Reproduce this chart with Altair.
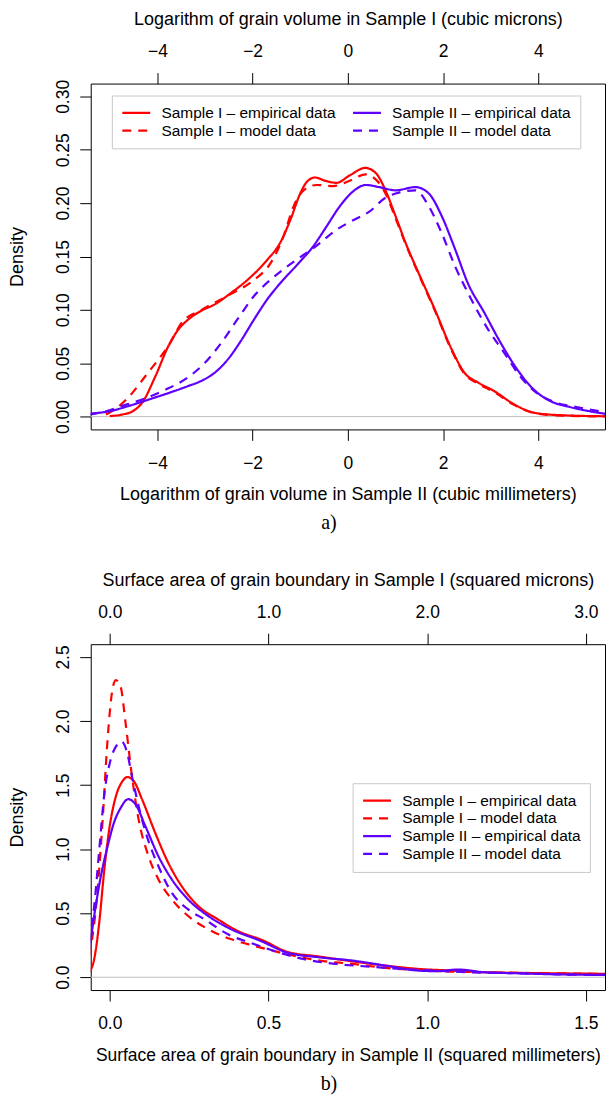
import altair as alt
import pandas as pd

# ---------------- Panel a : log grain volume ----------------
A_ORDER = ["Sample I – empirical data", "Sample I – model data",
           "Sample II – empirical data", "Sample II – model data"]

a_I_emp_x = [-5.0, -4.73, -4.52, -4.32, -4.04, -3.77, -3.56, -3.35, -3.07, -2.80, -2.45, -2.11,
             -1.69, -1.42, -1.21, -1.00, -0.86, -0.69, -0.48, -0.24, 0.04, 0.365, 0.59, 0.79,
             1.0, 1.21, 1.48, 1.83, 2.18, 2.45, 2.73, 3.07, 3.49, 3.90, 4.38, 5.4]
a_I_emp_y = [0.0005, 0.002, 0.005, 0.013, 0.038, 0.066, 0.0816, 0.091, 0.0994, 0.105, 0.116, 0.128,
             0.147, 0.163, 0.184, 0.209, 0.220, 0.224, 0.221, 0.219, 0.226, 0.233, 0.228, 0.212,
             0.188, 0.163, 0.135, 0.100, 0.063, 0.041, 0.032, 0.024, 0.0115, 0.0037, 0.0015, 0.0003]

a_I_mod_x = [-5.08, -4.80, -4.53, -4.25, -3.97, -3.77, -3.49, -3.07, -2.45, -1.97, -1.62, -1.35,
             -1.14, -0.93, -0.66, -0.31, 0.04, 0.38, 0.59, 0.79, 1.0, 1.21, 1.48, 1.83, 2.18,
             2.45, 2.73, 3.07, 3.49, 3.90, 4.38, 5.4]
a_I_mod_y = [0.002, 0.010, 0.022, 0.038, 0.054, 0.066, 0.088, 0.100, 0.115, 0.128, 0.144, 0.169,
             0.197, 0.212, 0.217, 0.216, 0.221, 0.227, 0.222, 0.209, 0.186, 0.162, 0.134, 0.099, 0.062,
             0.040, 0.031, 0.023, 0.011, 0.0035, 0.0012, 0.0002]

a_II_emp_x = [-5.42, -5.01, -4.60, -4.18, -3.77, -3.35, -3.07, -2.80, -2.52, -2.25, -1.97, -1.69,
              -1.42, -1.07, -0.72, -0.45, -0.17, 0.11, 0.38, 0.66, 1.0, 1.42, 1.70, 1.97, 2.25,
              2.52, 2.87, 3.21, 3.56, 3.90, 4.25, 4.66, 5.08, 5.42]
a_II_emp_y = [0.0028, 0.005, 0.010, 0.016, 0.022, 0.0287, 0.0336, 0.041, 0.0536, 0.0707, 0.091, 0.110,
              0.125, 0.142, 0.160, 0.178, 0.197, 0.211, 0.217, 0.215, 0.212, 0.215, 0.209, 0.188, 0.157,
              0.125, 0.097, 0.069, 0.044, 0.0255, 0.0146, 0.009, 0.005, 0.0025]

a_II_mod_x = [-5.42, -5.08, -4.67, -4.32, -3.84, -3.35, -3.01, -2.66, -2.32, -1.97, -1.55, -1.14,
              -0.66, -0.24, 0.11, 0.45, 0.79, 1.0, 1.42, 1.70, 1.97, 2.25, 2.59, 2.94, 3.28,
              3.63, 3.97, 4.38, 4.80, 5.42]
a_II_mod_y = [0.002, 0.005, 0.011, 0.016, 0.025, 0.037, 0.050, 0.069, 0.091, 0.113, 0.131, 0.145,
              0.160, 0.175, 0.184, 0.192, 0.205, 0.209, 0.212, 0.197, 0.172, 0.141, 0.110, 0.082, 0.060,
              0.037, 0.022, 0.013, 0.009, 0.004]

a_x_ticks = [-4, -2, 0, 2, 4]
a_top_ticks = [-4, -2, 0, 2, 4]
a_y_ticks = [0.0, 0.05, 0.10, 0.15, 0.20, 0.25, 0.30]

# ---------------- Panel b : surface area ----------------
B_ORDER = ["Sample I – empirical data", "Sample I – model data",
           "Sample II – empirical data", "Sample II – model data"]

b_I_emp_x = [-0.064, -0.049, -0.033, -0.018, -0.002, 0.019, 0.040, 0.055, 0.076, 0.102, 0.143,
             0.184, 0.226, 0.278, 0.340, 0.402, 0.485, 0.557, 0.661, 0.764, 0.868, 0.971, 1.075,
             1.18, 1.28, 1.39, 1.56]
b_I_emp_y = [0.039, 0.142, 0.43, 0.82, 1.15, 1.41, 1.53, 1.563, 1.53, 1.387, 1.128,
             0.894, 0.713, 0.557, 0.453, 0.363, 0.285, 0.200, 0.161, 0.124, 0.091, 0.065, 0.052,
             0.039, 0.034, 0.031, 0.026]

b_I_mod_x = [-0.064, -0.043, -0.023, -0.007, 0.008, 0.019, 0.034, 0.05, 0.07, 0.091, 0.122,
             0.153, 0.195, 0.246, 0.309, 0.381, 0.454, 0.557, 0.661, 0.764, 0.868, 0.971, 1.075,
             1.18, 1.39, 1.56]
b_I_mod_y = [0.168, 0.557, 1.205, 1.853, 2.24, 2.32, 2.27, 1.98, 1.568, 1.23, 0.946,
             0.765, 0.609, 0.48, 0.376, 0.298, 0.246, 0.181, 0.13, 0.104, 0.073, 0.057, 0.044,
             0.039, 0.031, 0.026]

b_II_emp_x = [-0.064, -0.049, -0.028, -0.007, 0.013, 0.034, 0.058, 0.081, 0.112, 0.153, 0.195,
              0.246, 0.309, 0.381, 0.474, 0.557, 0.661, 0.764, 0.868, 0.971, 1.033, 1.096, 1.18,
              1.28, 1.44, 1.56]
b_II_emp_y = [0.22, 0.48, 0.79, 1.02, 1.205, 1.32, 1.39, 1.35, 1.18, 0.946, 0.765,
              0.609, 0.48, 0.376, 0.285, 0.194, 0.155, 0.13, 0.091, 0.052, 0.047, 0.06, 0.039,
              0.031, 0.021, 0.018]

b_II_mod_x = [-0.064, -0.049, -0.033, -0.018, 0.003, 0.019, 0.037, 0.055, 0.07, 0.091, 0.117,
              0.153, 0.195, 0.246, 0.298, 0.371, 0.454, 0.516, 0.609, 0.712, 0.816, 0.919, 1.023,
              1.13, 1.28, 1.44, 1.56]
b_II_mod_y = [0.272, 0.557, 0.998, 1.413, 1.70, 1.80, 1.84, 1.75, 1.568, 1.335, 1.10,
              0.868, 0.661, 0.531, 0.453, 0.337, 0.259, 0.207, 0.142, 0.104, 0.083, 0.065, 0.052,
              0.039, 0.031, 0.021, 0.018]

b_x_ticks = [0.0, 0.5, 1.0, 1.5]
b_top_ticks = [0.0, 1.0, 2.0, 3.0]
b_y_ticks = [0.0, 0.5, 1.0, 1.5, 2.0, 2.5]

RED = "#ff0000"
BLUE = "#5f00ff"
SOLID = [1, 0]
DASH = [9, 7]
FONT = "Liberation Sans"
W, H = 516, 347


def frame(series):
    rows = []
    for name, xs, ys in series:
        for i, (xv, yv) in enumerate(zip(xs, ys)):
            rows.append({"x": xv, "y": yv, "series": name, "i": i})
    return pd.DataFrame(rows)


df_a = frame([
    ("Sample I – empirical data", a_I_emp_x, a_I_emp_y),
    ("Sample I – model data", a_I_mod_x, a_I_mod_y),
    ("Sample II – empirical data", a_II_emp_x, a_II_emp_y),
    ("Sample II – model data", a_II_mod_x, a_II_mod_y),
])
df_b = frame([
    ("Sample I – empirical data", b_I_emp_x, b_I_emp_y),
    ("Sample I – model data", b_I_mod_x, b_I_mod_y),
    ("Sample II – empirical data", b_II_emp_x, b_II_emp_y),
    ("Sample II – model data", b_II_mod_x, b_II_mod_y),
])


def color_range(order):
    return [RED if "Sample I " in s else BLUE for s in order]


def dash_range(order):
    return [SOLID if "empirical" in s else DASH for s in order]


def panel(df, order, xdom, xticks, xfmt, topdom, topticks, topfmt, ydom, yticks, yfmt,
          bottom_title, bottom_title_size, top_title, caption, lx, ly, columns):
    # long thin stroke symbol: 28 px line, but only 14 px tall layout cell
    leg = alt.Legend(orient="none", legendX=lx, legendY=ly, title=None, columns=columns,
                     symbolType="M-1,0H3", symbolSize=196, symbolStrokeWidth=2.2,
                     labelFont=FONT, labelFontSize=15.5, labelColor="black", labelLimit=400,
                     labelOffset=23.7, padding=9, rowPadding=0.8, columnPadding=12.5,
                     strokeColor="#c8c8c8", fillColor="white")
    zero = alt.Chart(pd.DataFrame({"z": [0]})).mark_rule(color="#bebebe", strokeWidth=1).encode(
        y=alt.Y("z:Q")
    )
    lines = alt.Chart(df).mark_line(clip=True, strokeWidth=2.2, interpolate="monotone").encode(
        x=alt.X("x:Q", scale=alt.Scale(domain=xdom, nice=False, zero=False),
                axis=alt.Axis(orient="bottom", values=xticks, format=xfmt, title=bottom_title,
                              labelPadding=14, titlePadding=13.8,
                              titleFontSize=bottom_title_size)),
        y=alt.Y("y:Q", scale=alt.Scale(domain=ydom, nice=False, zero=False),
                axis=alt.Axis(values=yticks, format=yfmt, title="Density", labelAngle=270,
                              labelAlign="center", labelBaseline="bottom", labelPadding=7,
                              titlePadding=28)),
        color=alt.Color("series:N", scale=alt.Scale(domain=order, range=color_range(order)),
                        legend=leg),
        strokeDash=alt.StrokeDash("series:N", scale=alt.Scale(domain=order, range=dash_range(order)),
                                  legend=leg),
        order="i:Q",
    )
    top = alt.Chart(pd.DataFrame({"t": topticks})).mark_point(opacity=0).encode(
        x=alt.X("t:Q", scale=alt.Scale(domain=topdom, nice=False, zero=False),
                axis=alt.Axis(orient="top", values=topticks, format=topfmt, title=top_title,
                              labelPadding=12, titlePadding=14)),
    )
    return alt.layer(zero, lines, top).resolve_scale(x="independent").properties(
        width=W, height=H,
        title=alt.TitleParams(caption, orient="bottom", font="Liberation Serif", fontSize=20,
                              fontWeight="normal", color="black", offset=10, frame="group",
                              anchor="middle", dx=-19),
    )


pa = panel(df_a, A_ORDER, [-5.4, 5.4], a_x_ticks, "d", [-5.4, 5.4], a_top_ticks, "d",
           [-0.012, 0.312], a_y_ticks, ".2f",
           "Logarithm of grain volume in Sample II (cubic millimeters)", 18,
           "Logarithm of grain volume in Sample I (cubic microns)", "a)", 21.2, 12, 2)

pb = panel(df_b, B_ORDER, [-0.06, 1.56], b_x_ticks, ".1f", [-0.12, 3.12], b_top_ticks, ".1f",
           [-0.1, 2.6], b_y_ticks, ".1f",
           "Surface area of grain boundary in Sample II (squared millimeters)", 17.5,
           "Surface area of grain boundary in Sample I (squared microns)", "b)", 262.8, 139.5, 1)

chart = alt.vconcat(pa, pb, spacing=36.5).resolve_scale(
    x="independent", y="independent", color="independent", strokeDash="independent"
).resolve_legend(color="independent", strokeDash="independent").properties(
    padding=0, background="white"
).configure_view(stroke="black", strokeWidth=1).configure_axis(
    domain=False, grid=False, tickColor="black", tickSize=11, tickWidth=1,
    labelFont=FONT, labelFontSize=17.5, labelColor="black", labelFlush=False, labelOverlap=False,
    titleFont=FONT, titleFontSize=18, titleFontWeight="normal", titleColor="black",
)

chart.save("out.html", embed_options={"renderer": "svg", "actions": False})
